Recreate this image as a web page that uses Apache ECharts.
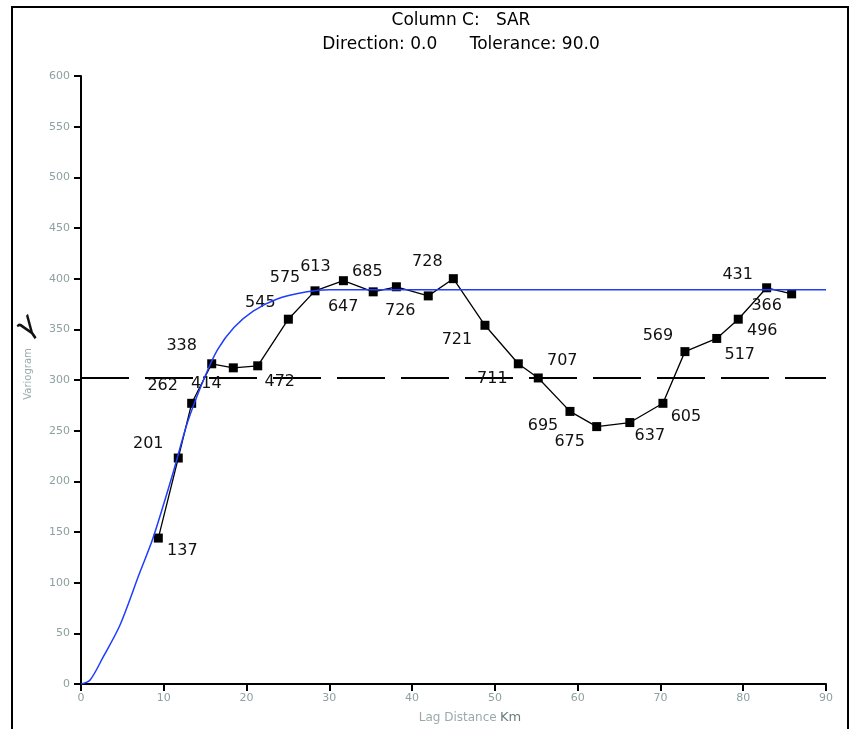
<!DOCTYPE html>
<html>
<head>
<meta charset="utf-8">
<script src="https://cdn.jsdelivr.net/npm/echarts@6/dist/echarts.min.js"></script>
<style>
  html, body { margin: 0; padding: 0; background: #fff; }
  #chart { width: 852px; height: 729px; }
</style>
</head>
<body>
<div id="chart"></div>
<script>
// experimental variogram points (lag, semivariance) and number of pairs
const lagDist = [9.34, 11.75, 13.37, 15.79, 18.4, 21.35, 25.05, 28.27, 31.7, 35.3, 38.1, 41.95, 44.98,
  48.8, 52.83, 55.24, 59.07, 62.3, 66.3, 70.3, 72.96, 76.8, 79.4, 82.83, 85.85];
const semivar = [144, 223, 277, 316, 312, 314, 360, 388, 398, 387, 392, 383, 400,
  354, 316, 302, 269, 254, 258, 277, 328, 341, 360, 391, 385];
const pairs = [137, 201, 262, 338, 414, 472, 545, 575, 613, 647, 685, 726, 728,
  721, 711, 707, 695, 675, 637, 605, 569, 517, 496, 431, 366];

// fitted model
const modelX = [0, 1.1, 2.7, 4.7, 7.1, 8.7, 11, 12.9, 14.9, 16.5, 18.5, 20.8, 23.7, 27.3, 30, 90];
const modelY = [0, 4, 27, 58, 110, 144, 205, 259, 302, 330, 352, 368, 380, 387, 389, 389];

// sample variance (dashed line)
const sampleVar = 302;
const xTicks = [0, 10, 20, 30, 40, 50, 60, 70, 80, 90];

// where each pair-count label sits relative to its point (px)
const labelOffsets = [
  [24, 13], [-30, -14], [-29, -17], [-30, -18], [-27, 16], [22, 16], [-28, -16], [-30, -13],
  [-28, -14], [-30, 15], [-29, -15], [-28, 15], [-26, -17], [-28, 15], [-26, 15], [24, -17],
  [-27, 14], [-27, 15], [20, 13], [23, 14], [-27, -16], [23, 16], [24, 12], [-29, -13], [-25, 12]
];

const tickColor = '#8ea0a0';

const option = {
  animation: false,
  backgroundColor: '#fff',
  title: {
    text: 'Column C:   SAR\nDirection: 0.0      Tolerance: 90.0',
    left: 456,
    top: 4,
    textAlign: 'center',
    textStyle: {
      fontFamily: 'DejaVu Sans',
      fontSize: 17,
      fontWeight: 'normal',
      color: '#000',
      lineHeight: 24
    }
  },
  grid: {
    left: 81,
    right: 26,
    top: 76,
    bottom: 42
  },
  xAxis: {
    type: 'value',
    min: 0,
    max: 90,
    interval: 10,
    name: '{a|Lag Distance} {b|Km}',
    nameLocation: 'middle',
    nameGap: 27,
    nameTextStyle: {
      padding: [0, 0, 0, 33],
      rich: {
        a: { fontFamily: 'DejaVu Sans', fontSize: 12, color: '#9aaaaa' },
        b: { fontFamily: 'DejaVu Sans', fontSize: 13, color: '#6c7c7c', verticalAlign: 'bottom' }
      }
    },
    axisLine: { lineStyle: { color: '#000', width: 2 } },
    axisTick: { length: 7, lineStyle: { color: '#000', width: 2 } },
    axisLabel: {
      margin: 9,
      color: tickColor,
      fontFamily: 'DejaVu Sans',
      fontSize: 11,
      formatter: v => (xTicks.includes(v) ? String(v) : '')
    },
    splitLine: { show: false }
  },
  yAxis: {
    type: 'value',
    min: 0,
    max: 600,
    interval: 50,
    axisLine: { show: true, lineStyle: { color: '#000', width: 2 } },
    axisTick: { show: true, length: 7, lineStyle: { color: '#000', width: 2 } },
    axisLabel: {
      margin: 11,
      color: tickColor,
      fontFamily: 'DejaVu Sans',
      fontSize: 11
    },
    splitLine: { show: false }
  },
  graphic: [
    {
      type: 'rect',
      shape: { x: 12, y: 7, width: 836, height: 760 },
      style: { fill: 'none', stroke: '#000', lineWidth: 2 },
      silent: true
    },
    {
      type: 'text',
      x: 28,
      y: 374,
      rotation: Math.PI / 2,
      style: {
        text: 'Variogram',
        fontFamily: 'DejaVu Sans',
        fontSize: 10,
        fill: '#9aaaaa',
        align: 'center',
        verticalAlign: 'middle'
      }
    },
    {
      type: 'text',
      x: 27,
      y: 327,
      rotation: 0.8,
      style: {
        text: 'γ',
        fontFamily: 'DejaVu Sans',
        fontStyle: 'italic',
        fontSize: 30,
        fill: '#111',
        align: 'center',
        verticalAlign: 'middle'
      }
    }
  ],
  series: [
    {
      name: 'Sample variance',
      type: 'line',
      data: [[0, sampleVar], [90, sampleVar]],
      symbol: 'none',
      lineStyle: { color: '#000', width: 2, type: [48, 16] },
      z: 1
    },
    {
      name: 'Semivariance',
      type: 'line',
      data: lagDist.map((x, i) => ({
        value: [x, semivar[i]],
        label: {
          show: true,
          position: 'inside',
          offset: labelOffsets[i],
          formatter: String(pairs[i])
        }
      })),
      symbol: 'rect',
      symbolSize: 9,
      itemStyle: { color: '#000' },
      lineStyle: { color: '#000', width: 1.3 },
      label: {
        color: '#111',
        fontFamily: 'DejaVu Sans',
        fontSize: 16
      },
      z: 2
    },
    {
      name: 'Model',
      type: 'line',
      data: modelX.map((x, i) => [x, modelY[i]]),
      symbol: 'none',
      smooth: 0.3,
      lineStyle: { color: '#1f3cff', width: 1.5 },
      z: 3
    }
  ]
};

const myChart = echarts.init(document.getElementById('chart'));
myChart.setOption(option);
</script>
</body>
</html>
